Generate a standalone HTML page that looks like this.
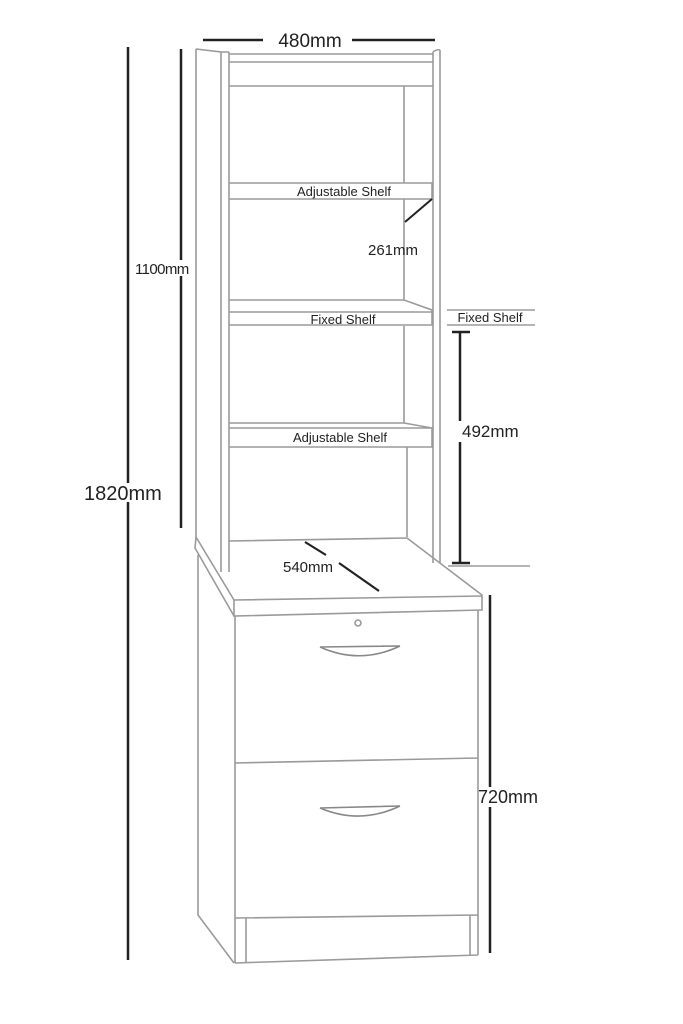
<!DOCTYPE html>
<html><head><meta charset="utf-8"><style>
html,body{margin:0;padding:0;background:#fff;width:683px;height:1024px;overflow:hidden}
svg{display:block}
text{font-family:"Liberation Sans",sans-serif;fill:#222}
</style></head><body>
<svg width="683" height="1024" viewBox="0 0 683 1024" xmlns="http://www.w3.org/2000/svg">
<g fill="none" stroke="#9a9a9a" stroke-width="1.6">
<path d="M196,49 L221,52 L221,572 M196,49 L196,537 M229,52 L229,572 M221,52 L229,52"/>
<path d="M433,52 L433,563 M440,50 L440,563 M433,52 Q437,49 440,50"/>
<path d="M229,54 L433,54 M229,62 L433,62 M229,86 L433,86"/>
<path d="M404,86 L404,183 M404,199 L404,300 M404,326 L404,423 M407,447 L407,537"/>
<path d="M229,183 L432,183 L432,199 L229,199"/>
<path d="M229,300 L404,300 L432,310 L432,325 L229,325 M229,312 L432,312"/>
<path d="M229,423 L404,423 L432,428 L432,447 L229,447 M229,428 L432,428"/>
<path d="M229,541 L407,538 L482,595 L482,610 L234,616 L234,600 L482,596 M196,537 L234,600 M196,537 L195,548 L234,616"/>
<path d="M198,555 L198,915 L234,963 M235,616 L235,963 M478,610 L478,955 M235,763 L478,758 M235,918 L478,915 M235,963 L478,955 M246,918 L246,963 M470,915 L470,955"/>
<circle cx="358" cy="623" r="3"/>
<path d="M320,647 Q360,665 400,646 M320,647 L400,646" stroke="#888"/>
<path d="M320,808 Q360,825 400,806 M320,808 L400,806" stroke="#888"/>
</g>
<g stroke="#222" stroke-width="2.5" fill="none">
<path d="M128,47 L128,483 M128,502 L128,960"/>
<path d="M181,49 L181,260 M181,276 L181,528"/>
<path d="M203,40 L263,40 M352,40 L435,40"/>
<path d="M460,332 L460,421 M460,442 L460,563 M452,332 L470,332 M452,563 L470,563"/>
<path d="M490,595 L490,787 M490,807 L490,953"/>
<path d="M432,199 L405,222" stroke-width="2"/>
<path d="M305,542 L326,555 M339,563 L379,591" stroke-width="2.2"/>
</g>
<g stroke="#888" stroke-width="1.2">
<path d="M447,310 L535,310 M447,325 L535,325 M448,566 L530,566"/>
</g>
<text x="310" y="47" font-size="19" text-anchor="middle">480mm</text>
<text x="84" y="500" font-size="20">1820mm</text>
<text x="135" y="274" font-size="15" letter-spacing="-0.6">1100mm</text>
<text x="344" y="196" font-size="13" text-anchor="middle">Adjustable Shelf</text>
<text x="343" y="324" font-size="13" text-anchor="middle">Fixed Shelf</text>
<text x="340" y="442" font-size="13" text-anchor="middle">Adjustable Shelf</text>
<text x="490" y="322" font-size="13" text-anchor="middle">Fixed Shelf</text>
<text x="368" y="255" font-size="15">261mm</text>
<text x="462" y="437" font-size="17">492mm</text>
<text x="283" y="572" font-size="15">540mm</text>
<text x="478" y="803" font-size="18">720mm</text>
</svg>
</body></html>
